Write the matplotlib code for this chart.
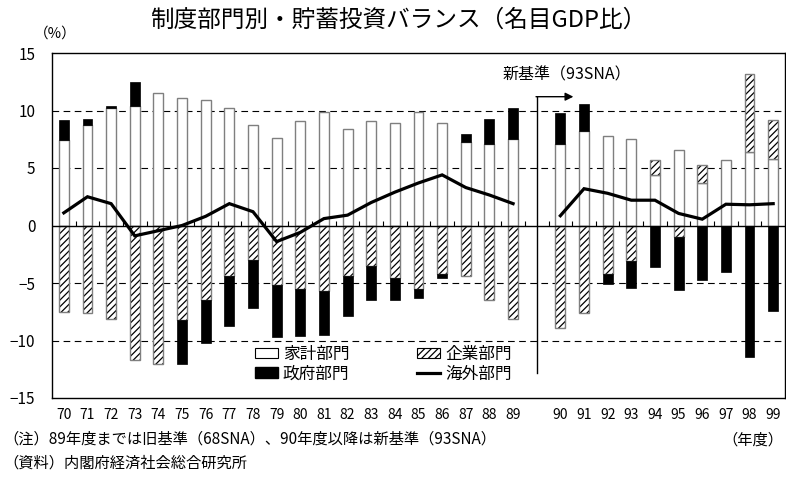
import numpy as np
import matplotlib
matplotlib.use("Agg")
import matplotlib.pyplot as plt
from matplotlib.patches import Patch
from matplotlib.lines import Line2D

plt.rcParams["font.family"] = ["Noto Sans CJK JP", "DejaVu Sans"]
plt.rcParams["hatch.linewidth"] = 0.9

# Fiscal years (70 = 1970 ... 99 = 1999)
years = [70, 71, 72, 73, 74, 75, 76, 77, 78, 79,
         80, 81, 82, 83, 84, 85, 86, 87, 88, 89,
         90, 91, 92, 93, 94, 95, 96, 97, 98, 99]
year_labels = [str(y) for y in years]

# Saving-investment balance by institutional sector (% of nominal GDP)
household = [7.4, 8.7, 10.2, 10.4, 11.5, 11.1, 10.9, 10.2, 8.7, 7.6,
             9.1, 9.9, 8.4, 9.1, 8.9, 9.9, 8.9, 7.3, 7.1, 7.5,
             7.1, 8.2, 7.8, 7.5, 4.4, 6.6, 3.7, 5.7, 6.4, 5.8]
corporate = [-7.5, -7.6, -8.1, -11.7, -12.0, -8.2, -6.5, -4.4, -3.0, -5.2,
             -5.5, -5.7, -4.4, -3.5, -4.6, -5.5, -4.2, -4.4, -6.5, -8.1,
             -8.9, -7.6, -4.2, -3.1, 1.3, -1.0, 1.6, 0.0, 6.8, 3.4]
government = [1.8, 0.6, 0.2, 2.1, 0.0, -3.8, -3.7, -4.3, -4.2, -4.5,
              -4.1, -3.8, -3.5, -3.0, -1.9, -0.8, -0.4, 0.7, 2.2, 2.7,
              2.7, 2.4, -0.9, -2.3, -3.6, -4.6, -4.7, -4.0, -11.4, -7.4]
overseas = [1.1, 2.5, 1.9, -0.9, -0.45, 0.0, 0.8, 1.9, 1.2, -1.4,
            -0.6, 0.6, 0.9, 2.0, 2.9, 3.7, 4.4, 3.3, 2.65, 1.9,
            0.85, 3.2, 2.8, 2.2, 2.2, 1.05, 0.55, 1.85, 1.8, 1.9]

BREAK_YEAR = 90  # 68SNA -> 93SNA

fig = plt.figure(figsize=(7.86, 4.83), dpi=100)
ax = fig.add_axes([52 / 786, 85 / 483, 733 / 786, 345 / 483])

# one empty slot separates the two SNA bases
pos = np.array([i if y < BREAK_YEAR else i + 1 for i, y in enumerate(years)], dtype=float)
width = 0.42

hh = np.array(household)
co = np.array(corporate)
gv = np.array(government)
up = np.zeros(len(years))
down = np.zeros(len(years))

for vals, kind in [(hh, "house"), (co, "corp"), (gv, "gov")]:
    m = vals != 0
    bottoms = np.where(vals >= 0, up, down)
    if kind == "house":
        ax.bar(pos[m], vals[m], width, bottom=bottoms[m], facecolor="white",
               edgecolor="#7f7f7f", linewidth=1.0, zorder=2)
    elif kind == "corp":
        ax.bar(pos[m], vals[m], width, bottom=bottoms[m], facecolor="white",
               edgecolor="black", hatch="/////", linewidth=0, zorder=2)
        ax.bar(pos[m], vals[m], width, bottom=bottoms[m], fill=False,
               edgecolor="#7f7f7f", linewidth=1.0, zorder=2)
    else:
        ax.bar(pos[m], vals[m], width, bottom=bottoms[m], facecolor="black",
               edgecolor="black", linewidth=0.5, zorder=2)
    up += np.clip(vals, 0, None)
    down += np.clip(vals, None, 0)

# overseas sector line, broken at the change of base
ov = np.array(overseas)
old = np.array(years) < BREAK_YEAR
ax.plot(pos[old], ov[old], color="black", lw=2.3, zorder=4, solid_joinstyle="miter")
ax.plot(pos[~old], ov[~old], color="black", lw=2.3, zorder=4, solid_joinstyle="miter")

# axes styling
ax.set_xlim(-0.5, 30.5)
ax.set_ylim(-15, 15)
ax.set_yticks(range(-15, 16, 5))
ax.tick_params(axis="y", length=0, pad=12, labelsize=11)
ax.set_xticks(pos)
ax.set_xticklabels(year_labels)
ax.tick_params(axis="x", length=0, pad=7, labelsize=10)
for v in (-10, -5, 5, 10):
    ax.axhline(v, color="black", lw=0.8, ls=(0, (6, 4)), zorder=1)
ax.axhline(0, color="black", lw=1.0, zorder=3)
ax.vlines(np.arange(0.5, 30.0, 1.0), 0, 0.42, color="black", lw=0.8, zorder=3)
for s in ax.spines.values():
    s.set_linewidth(1.0)

# base change marker
ax.plot([20, 20], [11.2, -12.8], color="black", lw=1.0, zorder=3)
ax.annotate("", xy=(21.55, 11.2), xytext=(19.97, 11.2),
            arrowprops=dict(arrowstyle="-|>", color="black", lw=1.0,
                            mutation_scale=12, shrinkA=0, shrinkB=0), zorder=3)
ax.text(18.55, 13.1, "新基準（93SNA）", ha="left", va="center", fontsize=11.5)

handles = [
    Patch(facecolor="white", edgecolor="black", linewidth=0.8),
    Patch(facecolor="black", edgecolor="black"),
    Patch(facecolor="white", edgecolor="black", hatch="/////", linewidth=0.8),
    Line2D([0], [0], color="black", lw=2.3),
]
labels = ["家計部門", "政府部門", "企業部門", "海外部門"]
ax.legend(handles, labels, ncol=2, frameon=False, loc="upper left",
          bbox_to_anchor=(0.268, 0.17), fontsize=12, handlelength=1.35,
          handleheight=0.6, handletextpad=0.3, columnspacing=4.1,
          labelspacing=0.15, borderaxespad=0)

fig.text(398 / 786, 1 - 20 / 483, "制度部門別・貯蓄投資バランス（名目GDP比）",
         ha="center", va="center", fontsize=17)
fig.text(34 / 786, 1 - 34 / 483, "（%）", ha="left", va="center", fontsize=10.5)
fig.text(783 / 786, 1 - 440 / 483, "（年度）", ha="right", va="center", fontsize=11)
fig.text(3 / 786, 1 - 439 / 483,
         "（注）89年度までは旧基準（68SNA）、90年度以降は新基準（93SNA）",
         ha="left", va="center", fontsize=11)
fig.text(3 / 786, 1 - 463 / 483, "（資料）内閣府経済社会総合研究所",
         ha="left", va="center", fontsize=11)

fig.savefig("out.png", dpi=100)
